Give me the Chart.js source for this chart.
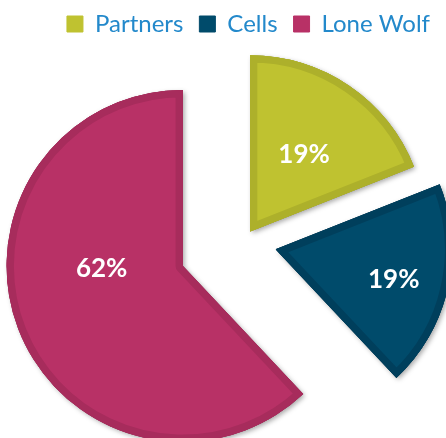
<!DOCTYPE html>
<html>
<head>
<meta charset="utf-8">
<script src="https://cdn.jsdelivr.net/npm/chart.js@4/dist/chart.umd.min.js"></script>
<style>
  html, body { margin: 0; padding: 0; background: #fff; }
  #wrap { width: 446px; height: 438px; }
</style>
</head>
<body>
<div id="wrap"><canvas id="pie"></canvas></div>
<script>
const categories = ['Partners', 'Cells', 'Lone Wolf'];
const shares = [19, 19, 62];

const fillColors = ['#bfc230', '#004b6b', '#b83166'];
const edgeColors = ['#adb02b', '#003f5c', '#a72c5c'];
// how far (px) each slice is pulled out along its bisector
const pull = [13, 34, 65];
// where the percentage sits inside each slice: fraction of radius, turn from bisector (deg)
const labelRadius = [0.53, 0.69, 0.46];
const labelTurn = [1, 2, 20];

// pie whose slices are shifted outwards as plain translations,
// drawn once with a drop shadow and once more clean on top
class ExplodedPie extends Chart.PieController {
  draw() {
    const ctx = this.chart.ctx;
    const area = this.chart.chartArea;
    const arcs = this._cachedMeta.data;
    [true, false].forEach(withShadow => {
      arcs.forEach((arc, i) => {
        if (arc.hidden) return;
        const mid = (arc.startAngle + arc.endAngle) / 2;
        const d = pull[i] || 0;
        ctx.save();
        if (withShadow) {
          ctx.shadowColor = 'rgba(0,0,0,0.35)';
          ctx.shadowBlur = 5;
          ctx.shadowOffsetX = 2;
          ctx.shadowOffsetY = 2;
        }
        ctx.translate(Math.cos(mid) * d, Math.sin(mid) * d);
        arc.draw(ctx, area);
        ctx.restore();
      });
    });
  }
}
ExplodedPie.id = 'explodedPie';
Chart.register(ExplodedPie);

// percentage text on each slice
const sliceLabels = {
  id: 'sliceLabels',
  afterDatasetsDraw(chart) {
    const ctx = chart.ctx;
    const data = chart.data.datasets[0].data;
    const total = data.reduce((a, b) => a + b, 0);
    const arcs = chart.getDatasetMeta(0).data;
    ctx.save();
    ctx.fillStyle = '#ffffff';
    ctx.font = 'bold 26px Lato';
    ctx.textAlign = 'center';
    ctx.textBaseline = 'middle';
    arcs.forEach((arc, i) => {
      const mid = (arc.startAngle + arc.endAngle) / 2;
      const ax = arc.x + Math.cos(mid) * pull[i];
      const ay = arc.y + Math.sin(mid) * pull[i];
      const a = mid + labelTurn[i] * Math.PI / 180;
      const r = arc.outerRadius * labelRadius[i];
      const text = Math.round(data[i] / total * 100) + '%';
      ctx.fillText(text, ax + Math.cos(a) * r, ay + Math.sin(a) * r);
    });
    ctx.restore();
  }
};

const defaultPieLabels = Chart.overrides.doughnut.plugins.legend.labels.generateLabels;

new Chart(document.getElementById('pie'), {
  type: 'explodedPie',
  data: {
    labels: categories,
    datasets: [{
      data: shares,
      backgroundColor: fillColors,
      borderColor: edgeColors,
      borderWidth: 7,
      borderAlign: 'inner',
      hoverOffset: 0
    }]
  },
  options: {
    responsive: true,
    maintainAspectRatio: false,
    animation: false,
    radius: 176,
    layout: { padding: { left: 40, right: 0, top: -4, bottom: -4 } },
    plugins: {
      tooltip: { enabled: false },
      legend: {
        position: 'top',
        align: 'end',
        labels: {
          boxWidth: 16,
          boxHeight: 16,
          padding: 16,
          color: '#2389cb',
          font: { family: 'Lato', size: 24 },
          // solid squares: outline in the fill colour
          generateLabels: chart => defaultPieLabels(chart).map(item => ({
            ...item, strokeStyle: item.fillStyle, lineWidth: 1
          }))
        }
      }
    }
  },
  plugins: [sliceLabels]
});
</script>
</body>
</html>
